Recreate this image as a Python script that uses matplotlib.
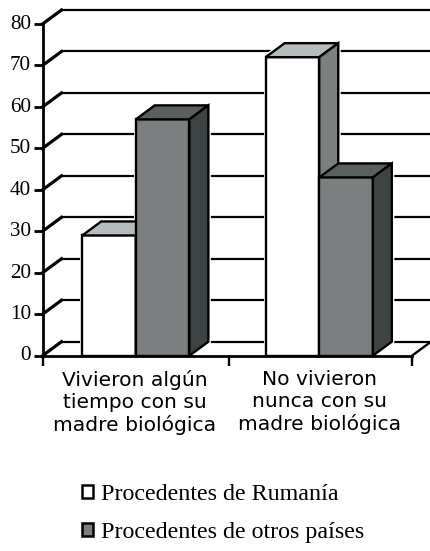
import matplotlib
matplotlib.use("Agg")
import matplotlib.pyplot as plt
from matplotlib.patches import Polygon, Patch
from matplotlib.transforms import ScaledTranslation

categories = ["Vivieron algún\ntiempo con su\nmadre biológica", "No vivieron\nnunca con su\nmadre biológica"]
rumania = [29, 72]
otros = [57, 43]
series_names = ["Procedentes de Rumanía", "Procedentes de otros países"]
y_ticks = [0, 10, 20, 30, 40, 50, 60, 70, 80]

W, H = 430, 551
L, R, T, B = 42.5, 412, 24, 355.7
fig = plt.figure(figsize=(W / 100, H / 100), dpi=100, facecolor="white")
ax = fig.add_axes([L / W, 1 - B / H, (R - L) / W, (B - T) / H])
ax.set_xlim(0, 2)
ax.set_ylim(0, 80)
ax.set_facecolor("none")

DX = 19 / (R - L) * 2
DY = 14 / (B - T) * 80
LW = 1.7
BW = 0.29
SERIF = "Liberation Serif"
cols = {
    "white": ("#ffffff", "#b5bcbd", "#7b7f80"),
    "gray": ("#7b7f80", "#5a5f60", "#3e4344"),
}

# back wall grid and floor
for v in y_ticks:
    ax.plot([DX, 2 + DX], [v + DY, v + DY], color="black", lw=1.6,
            clip_on=False, zorder=1)
    ax.plot([0, DX], [v, v + DY], color="black", lw=2.3,
            clip_on=False, zorder=1)
ax.plot([2, 2 + DX], [0, DY], color="black", lw=1.7, clip_on=False, zorder=1)


def bar3d(x0, v, key, z):
    front, top, side = cols[key]
    x1 = x0 + BW
    polys = [
        ([(x0, 0), (x1, 0), (x1, v), (x0, v)], front),
        ([(x0, v), (x1, v), (x1 + DX, v + DY), (x0 + DX, v + DY)], top),
        ([(x1, 0), (x1 + DX, DY), (x1 + DX, v + DY), (x1, v)], side),
    ]
    for pts, _ in polys:
        ax.add_patch(Polygon(pts, closed=True, fc="white", ec="white", lw=3.6,
                             clip_on=False, zorder=1.5))
    for pts, c in polys:
        ax.add_patch(Polygon(pts, closed=True, fc=c, ec="black", lw=LW,
                             clip_on=False, joinstyle="miter", zorder=z))


group_centres = [0.505, 1.498]
for i in range(len(categories)):
    c = group_centres[i]
    bar3d(c - BW, rumania[i], "white", 2 + i * 2)
    bar3d(c, otros[i], "gray", 3 + i * 2)

for s in ["top", "right"]:
    ax.spines[s].set_visible(False)
for s in ["left", "bottom"]:
    ax.spines[s].set_linewidth(2.0)
    ax.spines[s].set_zorder(10)
    ax.spines[s].set_capstyle("projecting")

ax.set_yticks(y_ticks)
ax.set_yticklabels([str(v) for v in y_ticks], family=SERIF, fontsize=15.2)
ax.tick_params(axis="y", length=6.5, width=2.0, pad=1.8)
for lab in ax.get_yticklabels():
    lab.set_transform(lab.get_transform() + ScaledTranslation(0, 1.6 / 72, fig.dpi_scale_trans))
ax.set_xticks([0, 1.007, 2])
ax.set_xticklabels([])
ax.tick_params(axis="x", which="major", length=7, width=1.7)
ax.set_xticks([0.5, 1.5], minor=True)
ax.set_xticklabels(categories, minor=True, family="DejaVu Sans", fontsize=14.6,
                   linespacing=1.22)
ax.tick_params(axis="x", which="minor", length=0, pad=10)

handles = [Patch(fc="white", ec="black", lw=1.8), Patch(fc="#7b7f80", ec="black", lw=1.8)]
leg = ax.legend(handles, series_names, frameon=False, loc="upper left",
                bbox_to_anchor=((82 - L) / (R - L), -(484 - B) / (B - T)),
                prop={"family": SERIF, "size": 17.3},
                handlelength=0.46, handleheight=0.46, handletextpad=0.33,
                labelspacing=0.72, borderpad=0, borderaxespad=0)

fig.savefig("out.png", dpi=100)
